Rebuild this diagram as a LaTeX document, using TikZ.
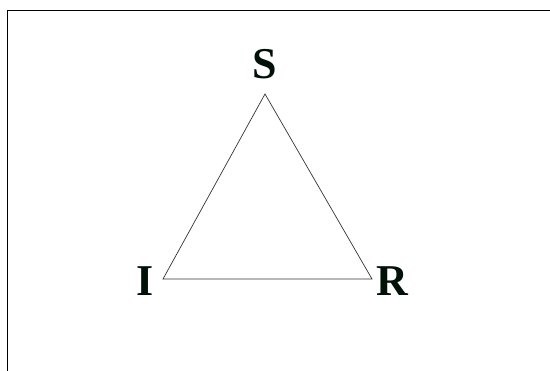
\documentclass[tikz,border=0pt]{standalone}
\usepackage{fontspec}
\setmainfont{Liberation Serif}
\definecolor{lbl}{RGB}{0,18,8}
\definecolor{edge}{RGB}{50,50,50}
\tikzset{
  vlabel/.style={font=\fontsize{44}{44}\selectfont\bfseries, text=lbl, inner sep=0pt, anchor=base},
  frameline/.style={line width=1.3pt, black},
  triedge/.style={line width=0.7pt, edge}
}
\begin{document}
\begin{tikzpicture}[x=1pt,y=-1pt]
\useasboundingbox (0,0) rectangle (550,371);
\coordinate (fc) at (7.5,10.5);
\coordinate (fr) at (551,10.5);
\coordinate (fb) at (7.5,372);
\draw[frameline] (fr) -- (fc) -- (fb);
\coordinate (vs) at (265,94);
\coordinate (vi) at (163,279);
\coordinate (vr) at (372,279);
\draw[triedge] (vs) -- (vi) -- (vr) -- cycle;
\node[vlabel] (S) at (265,79) {S};
\node[vlabel] (I) at (145,296) {I};
\node[vlabel] (R) at (392,296) {R};
\end{tikzpicture}
\end{document}
